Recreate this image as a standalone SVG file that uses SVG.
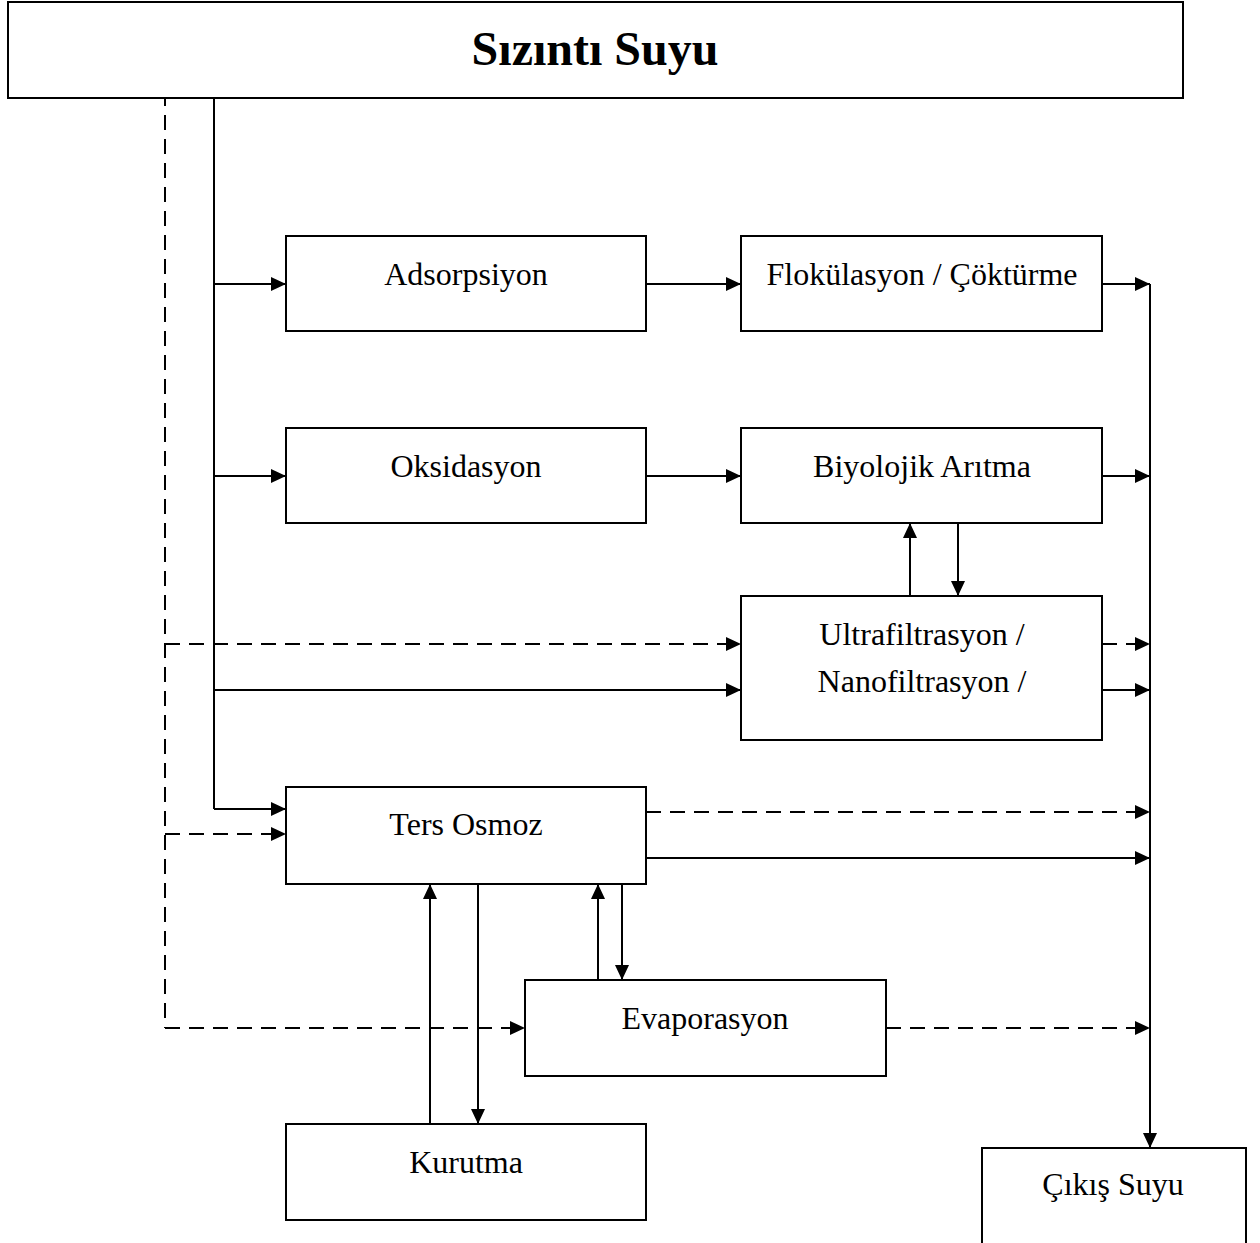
<svg xmlns="http://www.w3.org/2000/svg" width="1260" height="1243" viewBox="0 0 1260 1243">
<style>
.box{fill:#fff;stroke:#000;stroke-width:2}
.t{font-family:"Liberation Serif","Times New Roman",serif;font-size:32px;fill:#000;text-anchor:middle}
.ln{fill:none;stroke:#000;stroke-width:2}
.d{stroke-dasharray:15 9}
</style>
<defs>
<marker id="ah" markerWidth="15" markerHeight="14" refX="15" refY="7" orient="auto" markerUnits="userSpaceOnUse">
<path d="M0,0 L15,7 L0,14 Z" fill="#000"/>
</marker>
</defs>
<rect width="1260" height="1243" fill="#fff"/>
<g id="connectors">
<line class="ln d" x1="165" y1="91" x2="165" y2="1028"/>
<line class="ln" x1="214" y1="91" x2="214" y2="809"/>
<line class="ln" x1="214" y1="284" x2="286" y2="284" marker-end="url(#ah)"/>
<line class="ln" x1="214" y1="476" x2="286" y2="476" marker-end="url(#ah)"/>
<line class="ln" x1="214" y1="690" x2="741" y2="690" marker-end="url(#ah)"/>
<line class="ln" x1="214" y1="809" x2="286" y2="809" marker-end="url(#ah)"/>
<line class="ln d" x1="165" y1="644" x2="741" y2="644" marker-end="url(#ah)"/>
<line class="ln d" x1="165" y1="834" x2="286" y2="834" marker-end="url(#ah)"/>
<line class="ln d" x1="165" y1="1028" x2="525" y2="1028" marker-end="url(#ah)"/>
<line class="ln" x1="646" y1="284" x2="741" y2="284" marker-end="url(#ah)"/>
<line class="ln" x1="646" y1="476" x2="741" y2="476" marker-end="url(#ah)"/>
<line class="ln" x1="1102" y1="284" x2="1150" y2="284" marker-end="url(#ah)"/>
<line class="ln" x1="1102" y1="476" x2="1150" y2="476" marker-end="url(#ah)"/>
<line class="ln d" x1="1102" y1="644" x2="1150" y2="644" marker-end="url(#ah)"/>
<line class="ln" x1="1102" y1="690" x2="1150" y2="690" marker-end="url(#ah)"/>
<line class="ln d" x1="646" y1="812" x2="1150" y2="812" marker-end="url(#ah)"/>
<line class="ln" x1="646" y1="858" x2="1150" y2="858" marker-end="url(#ah)"/>
<line class="ln d" x1="886" y1="1028" x2="1150" y2="1028" marker-end="url(#ah)"/>
<line class="ln" x1="1150" y1="284" x2="1150" y2="1148" marker-end="url(#ah)"/>
<line class="ln" x1="910" y1="596" x2="910" y2="523" marker-end="url(#ah)"/>
<line class="ln" x1="958" y1="523" x2="958" y2="596" marker-end="url(#ah)"/>
<line class="ln" x1="598" y1="980" x2="598" y2="884" marker-end="url(#ah)"/>
<line class="ln" x1="622" y1="884" x2="622" y2="980" marker-end="url(#ah)"/>
<line class="ln" x1="430" y1="1124" x2="430" y2="884" marker-end="url(#ah)"/>
<line class="ln" x1="478" y1="884" x2="478" y2="1124" marker-end="url(#ah)"/>
</g>
<g id="sizinti">
<rect class="box" x="8" y="2" width="1175" height="96"/>
<text class="t" x="595" y="65" style="font-size:48px;font-weight:bold">Sızıntı Suyu</text>
</g>
<g id="adsorpsiyon">
<rect class="box" x="286" y="236" width="360" height="95"/>
<text class="t" x="466" y="285">Adsorpsiyon</text>
</g>
<g id="flokulasyon">
<rect class="box" x="741" y="236" width="361" height="95"/>
<text class="t" x="922" y="285">Flokülasyon / Çöktürme</text>
</g>
<g id="oksidasyon">
<rect class="box" x="286" y="428" width="360" height="95"/>
<text class="t" x="466" y="477">Oksidasyon</text>
</g>
<g id="biyolojik">
<rect class="box" x="741" y="428" width="361" height="95"/>
<text class="t" x="922" y="477">Biyolojik Arıtma</text>
</g>
<g id="ultrafiltrasyon">
<rect class="box" x="741" y="596" width="361" height="144"/>
<text class="t" x="922" y="645">Ultrafiltrasyon /</text>
<text class="t" x="922" y="692">Nanofiltrasyon /</text>
</g>
<g id="tersosmoz">
<rect class="box" x="286" y="787" width="360" height="97"/>
<text class="t" x="466" y="835">Ters Osmoz</text>
</g>
<g id="evaporasyon">
<rect class="box" x="525" y="980" width="361" height="96"/>
<text class="t" x="705" y="1029">Evaporasyon</text>
</g>
<g id="kurutma">
<rect class="box" x="286" y="1124" width="360" height="96"/>
<text class="t" x="466" y="1173">Kurutma</text>
</g>
<g id="cikis">
<rect class="box" x="982" y="1148" width="264" height="120"/>
<text class="t" x="1113" y="1195">Çıkış Suyu</text>
</g>
</svg>
